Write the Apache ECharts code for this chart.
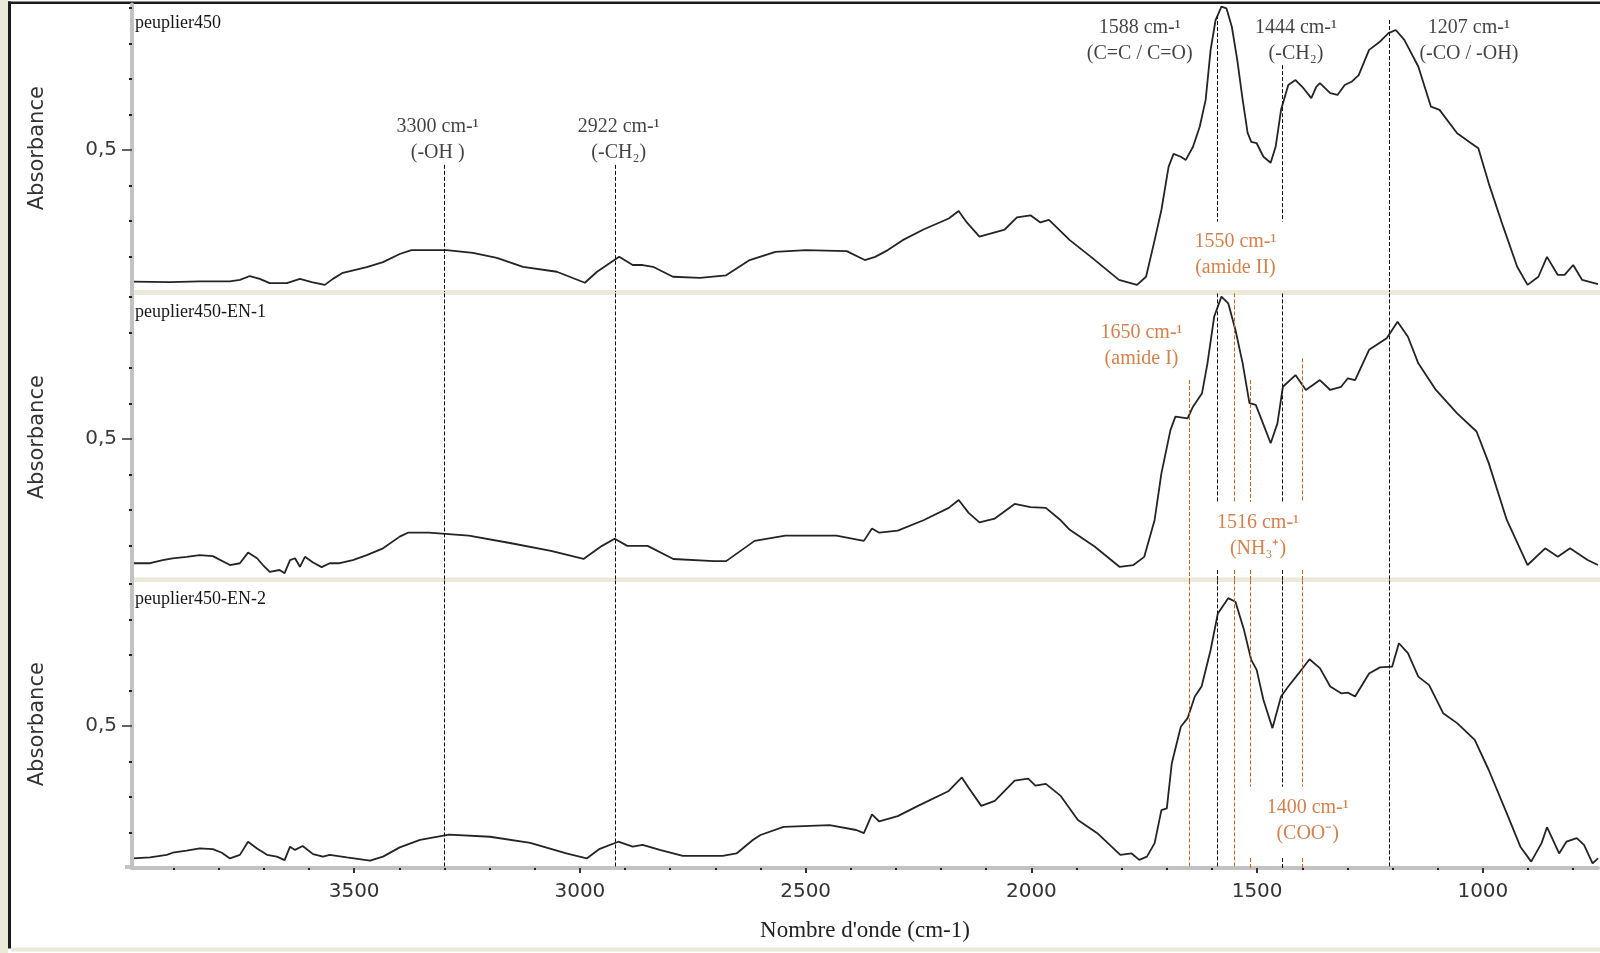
<!DOCTYPE html>
<html>
<head>
<meta charset="utf-8">
<title>FTIR peuplier450</title>
<script src="https://cdn.jsdelivr.net/npm/echarts@6.0.0/dist/echarts.min.js"></script>
<style>
  html, body { margin: 0; padding: 0; background: #ffffff; }
  #chart { width: 1600px; height: 953px; }
</style>
</head>
<body>
<div id="chart"></div>
<script>
// Spectra: [wavenumber (cm-1), absorbance]
const peuplier450 = [
  [3990,0.129],[3908,0.128],[3842,0.130],[3775,0.130],[3753,0.134],[3731,0.145],[3709,0.137],[3687,0.125],
  [3649,0.125],[3620,0.137],[3594,0.128],[3565,0.120],[3547,0.137],[3525,0.154],[3472,0.170],[3436,0.184],
  [3399,0.207],[3373,0.218],[3295,0.218],[3237,0.210],[3184,0.196],[3126,0.171],[3051,0.157],[2989,0.126],
  [2962,0.157],[2913,0.199],[2883,0.176],[2861,0.176],[2838,0.171],[2794,0.143],[2734,0.140],[2676,0.147],
  [2624,0.190],[2567,0.213],[2500,0.218],[2409,0.215],[2369,0.190],[2346,0.199],[2318,0.218],[2285,0.246],
  [2239,0.276],[2183,0.307],[2161,0.328],[2143,0.296],[2115,0.256],[2093,0.264],[2059,0.276],[2032,0.310],
  [2002,0.316],[1980,0.296],[1961,0.303],[1915,0.246],[1868,0.199],[1806,0.134],[1766,0.120],[1746,0.143],
  [1727,0.246],[1712,0.331],[1696,0.453],[1685,0.489],[1669,0.481],[1658,0.472],[1642,0.509],[1627,0.566],
  [1614,0.641],[1603,0.782],[1592,0.866],[1579,0.904],[1568,0.899],[1556,0.847],[1544,0.754],[1532,0.641],
  [1521,0.548],[1513,0.523],[1501,0.519],[1486,0.481],[1470,0.464],[1459,0.509],[1447,0.613],[1431,0.683],
  [1415,0.697],[1400,0.678],[1380,0.646],[1369,0.678],[1361,0.688],[1338,0.660],[1322,0.655],[1306,0.683],
  [1291,0.692],[1275,0.711],[1252,0.782],[1228,0.805],[1209,0.829],[1193,0.838],[1174,0.810],[1143,0.735],
  [1115,0.622],[1096,0.613],[1057,0.547],[1026,0.519],[1010,0.505],[987,0.406],[955,0.284],[924,0.171],
  [901,0.120],[877,0.143],[858,0.199],[834,0.148],[819,0.148],[800,0.176],[780,0.134],[745,0.122]
];

const peuplier450EN1 = [
  [3990,0.150],[3952,0.150],[3924,0.159],[3902,0.164],[3871,0.168],[3842,0.173],[3813,0.170],[3775,0.145],
  [3753,0.150],[3735,0.180],[3715,0.164],[3702,0.145],[3687,0.126],[3665,0.131],[3654,0.122],[3642,0.159],
  [3631,0.164],[3620,0.140],[3609,0.168],[3591,0.152],[3572,0.139],[3554,0.150],[3532,0.150],[3503,0.159],
  [3472,0.173],[3436,0.192],[3399,0.225],[3381,0.236],[3335,0.236],[3246,0.228],[3155,0.207],[3064,0.185],
  [2992,0.162],[2951,0.199],[2923,0.219],[2895,0.199],[2850,0.199],[2793,0.162],[2703,0.156],[2676,0.156],
  [2613,0.213],[2545,0.228],[2432,0.228],[2371,0.213],[2353,0.248],[2337,0.236],[2296,0.242],[2239,0.271],
  [2183,0.306],[2161,0.328],[2139,0.292],[2115,0.265],[2081,0.276],[2037,0.317],[2002,0.308],[1968,0.306],
  [1935,0.271],[1915,0.244],[1860,0.197],[1805,0.140],[1774,0.145],[1750,0.168],[1727,0.272],[1712,0.403],
  [1692,0.525],[1681,0.563],[1654,0.558],[1642,0.591],[1622,0.629],[1610,0.713],[1595,0.845],[1579,0.901],
  [1564,0.882],[1548,0.807],[1532,0.713],[1517,0.601],[1503,0.596],[1490,0.554],[1470,0.488],[1455,0.544],
  [1443,0.647],[1415,0.680],[1392,0.638],[1361,0.666],[1338,0.638],[1314,0.647],[1299,0.671],[1283,0.666],
  [1252,0.751],[1213,0.784],[1189,0.830],[1166,0.788],[1143,0.713],[1104,0.638],[1057,0.572],[1014,0.521],
  [987,0.432],[947,0.272],[901,0.145],[862,0.192],[834,0.168],[807,0.192],[768,0.159],[745,0.145]
];

const peuplier450EN2 = [
  [3990,0.127],[3952,0.130],[3915,0.137],[3902,0.143],[3871,0.149],[3842,0.155],[3813,0.153],[3793,0.143],
  [3775,0.127],[3753,0.137],[3735,0.174],[3715,0.155],[3693,0.137],[3671,0.132],[3654,0.122],[3642,0.160],
  [3631,0.151],[3614,0.162],[3591,0.139],[3569,0.132],[3554,0.137],[3516,0.130],[3465,0.121],[3436,0.132],
  [3399,0.158],[3354,0.179],[3290,0.194],[3199,0.188],[3110,0.171],[3030,0.141],[2985,0.127],[2956,0.154],
  [2915,0.174],[2883,0.160],[2861,0.165],[2823,0.151],[2772,0.134],[2684,0.134],[2653,0.141],[2617,0.179],
  [2600,0.193],[2549,0.216],[2447,0.221],[2388,0.207],[2371,0.198],[2353,0.251],[2337,0.231],[2296,0.246],
  [2251,0.275],[2183,0.317],[2154,0.355],[2139,0.326],[2111,0.275],[2081,0.289],[2037,0.346],[2007,0.352],
  [1991,0.332],[1968,0.337],[1935,0.303],[1897,0.235],[1854,0.198],[1803,0.137],[1778,0.141],[1761,0.123],
  [1744,0.132],[1727,0.170],[1712,0.263],[1700,0.268],[1689,0.395],[1669,0.498],[1654,0.522],[1638,0.583],
  [1623,0.611],[1603,0.714],[1587,0.817],[1564,0.860],[1548,0.850],[1529,0.770],[1513,0.686],[1501,0.658],
  [1486,0.573],[1466,0.494],[1447,0.583],[1431,0.611],[1408,0.648],[1384,0.688],[1361,0.663],[1338,0.611],
  [1314,0.592],[1299,0.594],[1283,0.583],[1252,0.648],[1228,0.665],[1201,0.667],[1186,0.733],[1166,0.705],
  [1143,0.639],[1119,0.615],[1088,0.536],[1057,0.508],[1018,0.461],[987,0.376],[947,0.254],[917,0.160],
  [893,0.118],[870,0.170],[858,0.215],[831,0.141],[815,0.174],[792,0.184],[776,0.165],[757,0.113],[745,0.127]
];

const spectra = [peuplier450, peuplier450EN1, peuplier450EN2];
const panelTitles = ['peuplier450', 'peuplier450-EN-1', 'peuplier450-EN-2'];

// Axis ranges and tick values
const wnMin = 745, wnMax = 3992;
const absMin = 0.1, absMax = 0.91;
const xMajorTicks = [1000, 1500, 2000, 2500, 3000, 3500];
const xMinorTicks = [800, 900, 1100, 1200, 1300, 1400, 1600, 1700, 1800, 1900, 2100, 2200, 2300, 2400,
                     2600, 2700, 2800, 2900, 3100, 3200, 3300, 3400, 3600, 3700, 3800, 3900];
const yMajorTicks = [0.5];
const yMinorTicks = [0.2, 0.3, 0.4, 0.6, 0.7, 0.8, 0.9];

// Band assignments: dashed marker lines, with the absorbance spans drawn in each panel
const BLACK = '#111111', ORANGE = '#c8621f';
const bandLines = [
  { wn: 3300, color: BLACK,  spans: [[[0.458, 0.1]], [[0.91, 0.1]], [[0.91, 0.1]]] },
  { wn: 2922, color: BLACK,  spans: [[[0.458, 0.1]], [[0.91, 0.1]], [[0.91, 0.1]]] },
  { wn: 1588, color: BLACK,  spans: [[[0.88, 0.298]], [[0.91, 0.323], [0.131, 0.1]], [[0.91, 0.1]]] },
  { wn: 1444, color: BLACK,  spans: [[[0.739, 0.298]], [[0.91, 0.323], [0.131, 0.1]], [[0.91, 0.329], [0.128, 0.1]]] },
  { wn: 1207, color: BLACK,  spans: [[[0.866, 0.1]], [[0.91, 0.1]], [[0.91, 0.1]]] },
  { wn: 1650, color: ORANGE, spans: [[], [[0.666, 0.1]], [[0.91, 0.1]]] },
  { wn: 1550, color: ORANGE, spans: [[], [[0.91, 0.323], [0.131, 0.1]], [[0.91, 0.1]]] },
  { wn: 1516, color: ORANGE, spans: [[], [[0.666, 0.323], [0.131, 0.1]], [[0.91, 0.329], [0.128, 0.1]]] },
  { wn: 1400, color: ORANGE, spans: [[], [[0.727, 0.323], [0.131, 0.1]], [[0.91, 0.329], [0.128, 0.1]]] }
];

// Band labels: panel, anchor (wavenumber, absorbance), two text lines
const bandLabels = [
  { panel: 0, wn: 3315, abs: 0.528, color: BLACK,  text: ['3300 cm-\u00B9', '(-OH )'] },
  { panel: 0, wn: 2914, abs: 0.528, color: BLACK,  text: ['2922 cm-\u00B9', '(-CH\u2082)'] },
  { panel: 0, wn: 1760, abs: 0.807, color: BLACK,  text: ['1588 cm-\u00B9', '(C=C / C=O)'] },
  { panel: 0, wn: 1414, abs: 0.807, color: BLACK,  text: ['1444 cm-\u00B9', '(-CH\u2082)'] },
  { panel: 0, wn: 1031, abs: 0.807, color: BLACK,  text: ['1207 cm-\u00B9', '(-CO / -OH)'] },
  { panel: 0, wn: 1548, abs: 0.206, color: ORANGE, text: ['1550 cm-\u00B9', '(amide II)'] },
  { panel: 1, wn: 1756, abs: 0.762, color: ORANGE, text: ['1650 cm-\u00B9', '(amide I)'] },
  { panel: 1, wn: 1498, abs: 0.227, color: ORANGE, text: ['1516 cm-\u00B9', '(NH\u2083\u207A)'] },
  { panel: 2, wn: 1388, abs: 0.232, color: ORANGE, text: ['1400 cm-\u00B9', '(COO\u207B)'] }
];

// Panel geometry (pixels)
const gridLeft = 132, gridWidth = 1466, gridHeight = 287.6;
const gridTops = [4.4, 293.4, 580.4];

const AXIS_GREY = '#c2c2c2';
const SANS = 'DejaVu Sans';
const SERIF = 'Liberation Serif';

const grids = gridTops.map(t => ({ left: gridLeft, top: t, width: gridWidth, height: gridHeight, containLabel: false }));

const xAxes = gridTops.map((t, i) => {
  const last = i === gridTops.length - 1;
  return {
    type: 'value', gridIndex: i, position: 'bottom', inverse: true, min: wnMin, max: wnMax,
    show: last,
    axisLine: { show: last, onZero: false, lineStyle: { color: AXIS_GREY, width: 4 } },
    axisTick: { show: last, customValues: xMajorTicks, length: 5, lineStyle: { color: '#333', width: 2 } },
    axisLabel: { show: last, customValues: xMajorTicks, margin: 14, fontFamily: SANS, fontSize: 20, color: '#333',
                 formatter: v => String(v) },
    splitLine: { show: false },
    name: last ? "Nombre d'onde (cm-1)" : '',
    nameLocation: 'middle', nameGap: 51,
    nameTextStyle: { fontFamily: SERIF, fontSize: 23, color: '#222' },
    z: 4
  };
});
// minor x ticks on the bottom panel
xAxes.push({
  type: 'value', gridIndex: 2, position: 'bottom', inverse: true, min: wnMin, max: wnMax,
  axisLine: { show: false, onZero: false },
  axisTick: { show: true, customValues: xMinorTicks, length: 2, lineStyle: { color: '#222', width: 2 } },
  axisLabel: { show: false }, splitLine: { show: false }, z: 5
});

const yAxes = gridTops.map((t, i) => ({
  type: 'value', gridIndex: i, min: absMin, max: absMax, position: 'left',
  axisLine: { show: true, onZero: false, lineStyle: { color: AXIS_GREY, width: 4 } },
  axisTick: { show: true, customValues: yMajorTicks, length: 10, lineStyle: { color: '#333', width: 1.5 } },
  axisLabel: { show: true, customValues: yMajorTicks, margin: 15, fontFamily: SANS, fontSize: 20, color: '#3a3a3a',
               formatter: v => String(v).replace('.', ',') },
  splitLine: { show: false },
  name: 'Absorbance', nameLocation: 'middle', nameGap: 84,
  nameTextStyle: { fontFamily: SANS, fontSize: 21, color: '#333' },
  z: 4
}));
gridTops.forEach((t, i) => {
  yAxes.push({
    type: 'value', gridIndex: i, min: absMin, max: absMax, position: 'left',
    axisLine: { show: false, onZero: false },
    axisTick: { show: true, customValues: yMinorTicks, length: 3, lineStyle: { color: '#222', width: 2 } },
    axisLabel: { show: false }, splitLine: { show: false }, z: 5
  });
});

function markLinesFor(panel) {
  const data = [];
  bandLines.forEach(b => {
    b.spans[panel].forEach(([a1, a2]) => {
      data.push([
        { coord: [b.wn, a1], lineStyle: { color: b.color, width: 1, type: [4, 2] } },
        { coord: [b.wn, a2] }
      ]);
    });
  });
  return { silent: true, symbol: ['none', 'none'], label: { show: false }, animation: false, data };
}

const series = [];
spectra.forEach((s, i) => {
  series.push({
    name: panelTitles[i], type: 'line', xAxisIndex: i, yAxisIndex: i,
    data: s, showSymbol: false, symbol: 'none', smooth: false,
    lineStyle: { color: '#242424', width: 1.8 },
    z: 3, animation: false,
    markLine: markLinesFor(i)
  });
  series.push({
    type: 'scatter', xAxisIndex: i, yAxisIndex: i, symbolSize: 0, silent: true, z: 6, animation: false,
    data: bandLabels.filter(l => l.panel === i).map(l => ({ value: [l.wn, l.abs], txt: l.text, label: { color: l.color } })),
    label: {
      show: true, position: 'inside', formatter: p => p.data.txt.join('\n'),
      fontFamily: SERIF, fontSize: 20, lineHeight: 26, align: 'center', verticalAlign: 'middle'
    }
  });
});

const titles = panelTitles.map((t, i) => ({
  text: t, left: 135, top: gridTops[i] + 10, padding: 0,
  textStyle: { fontFamily: SERIF, fontSize: 18, fontWeight: 'normal', color: '#161616' }
}));

// Window frame and panel separators
const FRAME_BEIGE = '#ece9d8';
const graphic = [
  { type: 'rect', shape: { x: 0, y: 0, width: 8, height: 953 }, style: { fill: FRAME_BEIGE }, z: 0 },
  { type: 'rect', shape: { x: 8, y: 1.5, width: 1592, height: 2.5 }, style: { fill: '#1c1c1c' }, z: 0 },
  { type: 'rect', shape: { x: 8, y: 1.5, width: 3, height: 947 }, style: { fill: '#1c1c1c' }, z: 0 },
  { type: 'rect', shape: { x: 11, y: 947.5, width: 1589, height: 4 }, style: { fill: FRAME_BEIGE }, z: 0 },
  { type: 'rect', shape: { x: 133, y: 290, width: 1467, height: 5 }, style: { fill: FRAME_BEIGE }, z: 0 },
  { type: 'rect', shape: { x: 133, y: 577.5, width: 1467, height: 4.5 }, style: { fill: FRAME_BEIGE }, z: 0 },
  { type: 'rect', shape: { x: 125, y: 865, width: 8, height: 4 }, style: { fill: AXIS_GREY }, z: 0 }
];

const chart = echarts.init(document.getElementById('chart'), null, { renderer: 'canvas' });
chart.setOption({
  animation: false,
  backgroundColor: '#ffffff',
  title: titles,
  grid: grids,
  xAxis: xAxes,
  yAxis: yAxes,
  series: series,
  graphic: graphic
});
</script>
</body>
</html>
